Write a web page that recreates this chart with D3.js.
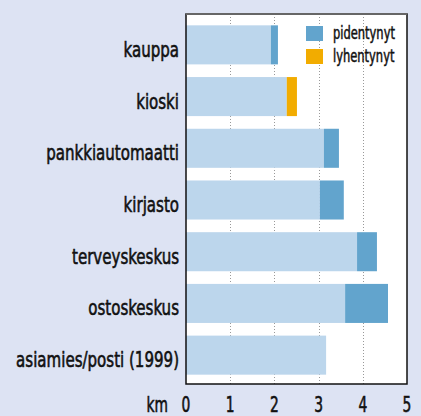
<!DOCTYPE html>
<html lang="fi">
<head>
<meta charset="UTF-8">
<title>Matka palveluihin</title>
<style>
    body {
        margin: 0;
        padding: 0;
        background-color: #dde3f3;
    }
    svg text {
        font-family: "DejaVu Sans Condensed", "DejaVu Sans", sans-serif;
        font-stretch: condensed;
        fill: #111;
        stroke: #111;
        stroke-width: 0.6px;
    }
    .grid line {
        stroke: #999;
        stroke-width: 1;
        stroke-dasharray: 1,2;
    }
</style>
</head>
<body>
<div id="chart"></div>
<script src="https://d3js.org/d3.v7.min.js"></script>
<script>
    // palvelut ja matkat (km)
    const categories = ["kauppa", "kioski", "pankkiautomaatti", "kirjasto", "terveyskeskus", "ostoskeskus", "asiamies/posti (1999)"];
    const baseValues = [1.92, 2.28, 3.12, 3.03, 3.87, 3.60, 3.17];
    const pidentynyt = [0.16, 0, 0.34, 0.54, 0.45, 0.97, 0];
    const lyhentynyt = [0, 0.23, 0, 0, 0, 0, 0];
    const xTicks = [0, 1, 2, 3, 4, 5];
    const legendLabels = ["pidentynyt", "lyhentynyt"];

    const colors = { base: "#bcd6ec", up: "#62a4cd", down: "#f2ac00" };

    const width = 421, height = 416;
    const plot = { left: 186, right: 407, top: 14, bottom: 384 };

    const svg = d3.select("#chart").append("svg")
        .attr("width", width)
        .attr("height", height);

    const x = d3.scaleLinear()
        .domain([0, 5])
        .range([plot.left, plot.right]);

    const y = d3.scaleBand()
        .domain(categories)
        .range([19, 381])
        .paddingInner(0.245)
        .paddingOuter(0.1225);

    // kapea fontti: kavennetaan tekstiä vaakasuunnassa
    function place(sel, px, py, s) {
        sel.attr("x", 0).attr("y", 0)
            .attr("transform", (d, i) => "translate(" + px(d, i) + "," + py(d, i) + ") scale(" + s + ",1)");
    }

    // valkoinen kuva-alue
    svg.append("rect")
        .attr("x", plot.left)
        .attr("y", plot.top)
        .attr("width", plot.right - plot.left)
        .attr("height", plot.bottom - plot.top)
        .attr("fill", "#fff");

    svg.append("g")
        .attr("class", "grid")
        .selectAll("line")
        .data(xTicks.filter(d => d > 0 && d < 5))
        .enter().append("line")
        .attr("x1", d => Math.round(x(d)) + 0.5)
        .attr("x2", d => Math.round(x(d)) + 0.5)
        .attr("y1", plot.top)
        .attr("y2", plot.bottom);

    const rows = svg.append("g")
        .selectAll("g")
        .data(categories.map((c, i) => ({
            name: c, base: baseValues[i], up: pidentynyt[i], down: lyhentynyt[i]
        })))
        .enter().append("g");

    rows.append("rect")
        .attr("x", x(0))
        .attr("y", d => y(d.name))
        .attr("width", d => x(d.base) - x(0))
        .attr("height", y.bandwidth())
        .attr("fill", colors.base);

    rows.filter(d => d.up > 0).append("rect")
        .attr("x", d => x(d.base))
        .attr("y", d => y(d.name))
        .attr("width", d => x(d.base + d.up) - x(d.base))
        .attr("height", y.bandwidth())
        .attr("fill", colors.up);

    rows.filter(d => d.down > 0).append("rect")
        .attr("x", d => x(d.base))
        .attr("y", d => y(d.name))
        .attr("width", d => x(d.base + d.down) - x(d.base))
        .attr("height", y.bandwidth())
        .attr("fill", colors.down);

    // reunat
    svg.append("rect")
        .attr("x", plot.left)
        .attr("y", plot.top)
        .attr("width", plot.right - plot.left)
        .attr("height", plot.bottom - plot.top)
        .attr("fill", "none")
        .attr("stroke", "#111")
        .attr("stroke-width", 1.5);
    svg.append("line")
        .attr("x1", plot.left).attr("x2", plot.right)
        .attr("y1", plot.top).attr("y2", plot.top)
        .attr("stroke", "#666").attr("stroke-width", 2);

    // luokat
    const labels = svg.append("g")
        .selectAll("text")
        .data(categories)
        .enter().append("text")
        .attr("text-anchor", "end")
        .style("font-size", "22px")
        .text(d => d);
    const longest = d3.max(labels.nodes(), n => n.getComputedTextLength());
    const s = 163 / longest;
    place(labels, () => 179, d => y(d) + y.bandwidth() / 2 + 12, s);

    // x-akseli
    const ticks = svg.append("g")
        .selectAll("text")
        .data(xTicks)
        .enter().append("text")
        .attr("text-anchor", "middle")
        .style("font-size", "22px")
        .text(d3.format("d"));
    place(ticks, d => x(d), () => 412, 0.7);

    const km = svg.append("text")
        .datum("km")
        .attr("text-anchor", "end")
        .style("font-size", "22px")
        .text(d => d);
    place(km, () => 168, () => 412, 0.7);

    // selite
    const legend = svg.append("g")
        .selectAll("g")
        .data(legendLabels)
        .enter().append("g")
        .attr("transform", (d, i) => "translate(306," + (26 + i * 23) + ")");
    legend.append("rect")
        .attr("width", 17)
        .attr("height", 15)
        .attr("fill", (d, i) => i === 0 ? colors.up : colors.down);
    const legendText = legend.append("text")
        .style("font-size", "17px")
        .style("stroke-width", "0.5px")
        .text(d => d);
    const lw = legendText.node().getComputedTextLength();
    place(legendText, () => 27, () => 12.5, 62 / lw);
</script>
</body>
</html>
